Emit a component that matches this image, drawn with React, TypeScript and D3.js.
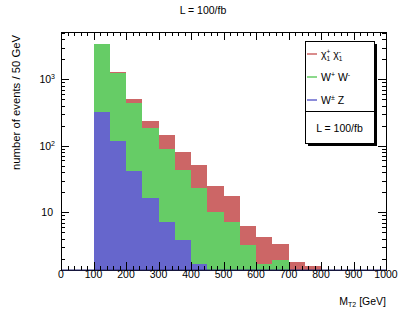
import React, { useEffect, useRef } from 'react';
import * as d3 from 'd3';

// bin lower edges in GeV (bin width 50)
const binEdges = [100, 150, 200, 250, 300, 350, 400, 450, 500, 550, 600, 650, 700, 750];
// stacked contributions, bottom to top
const wzValues = [318, 119, 41.5, 16.1, 7.1, 3.8, 1.69, 0, 0, 0, 0, 0, 0, 0];
const wwValues = [3060, 1111, 398, 171, 82, 39.2, 21.6, 10.1, 7.14, 3.24, 1.69, 1.91, 0, 0];
const chiValues = [15, 45, 59, 51, 54, 36.5, 27.8, 14.9, 10.3, 3.03, 2.59, 1.47, 1.8, 1.54];

const xTicks = [0, 100, 200, 300, 400, 500, 600, 700, 800, 900, 1000];
const yLabels = [
  { v: 10, base: '10', exp: '' },
  { v: 100, base: '10', exp: '2' },
  { v: 1000, base: '10', exp: '3' },
];

const W = 407;
const H = 318;
const left = 61, right = 386, top = 32, bottom = 270;
const font = 'Liberation Sans, Arial, Helvetica, sans-serif';

const red = '#cc6666';
const green = '#66cc66';
const blue = '#6666cc';

export default function App() {
  const ref = useRef<SVGSVGElement>(null);

  useEffect(() => {
    const svg = d3.select(ref.current);
    svg.selectAll('*').remove();

    const x = d3.scaleLinear().domain([0, 1000]).range([left, right]);
    const y = d3.scaleLog().domain([1.35, 5150]).range([bottom, top]);
    const yMin = 1.35;
    const yv = (v: number) => y(Math.max(v, yMin));

    svg.append('rect').attr('width', W).attr('height', H).attr('fill', 'white');

    // stacked histogram
    const g = svg.append('g');
    binEdges.forEach((lo, i) => {
      const a = wzValues[i];
      const b = a + wwValues[i];
      const c = b + chiValues[i];
      const segs: [number, number, string][] = [
        [0, a, blue],
        [a, b, green],
        [b, c, red],
      ];
      segs.forEach(([s0, s1, col]) => {
        if (s1 <= yMin || s1 <= s0) return;
        const y0 = s0 <= 0 ? bottom : yv(s0);
        const y1 = yv(s1);
        g.append('rect')
          .attr('x', x(lo))
          .attr('width', x(lo + 50) - x(lo))
          .attr('y', y1)
          .attr('height', y0 - y1)
          .attr('fill', col)
          .attr('shape-rendering', 'crispEdges');
      });
    });

    // frame
    svg.append('rect')
      .attr('x', left).attr('y', top)
      .attr('width', right - left).attr('height', bottom - top)
      .attr('fill', 'none').attr('stroke', '#000').attr('stroke-width', 1)
      .attr('shape-rendering', 'crispEdges');
    svg.append('line')
      .attr('x1', left).attr('x2', right).attr('y1', bottom).attr('y2', bottom)
      .attr('stroke', '#2c2c78').attr('stroke-width', 1.2);

    const ticks = svg.append('g').attr('stroke', '#000').attr('stroke-width', 1)
      .attr('shape-rendering', 'crispEdges');

    // x ticks (major 100, minor 20) on bottom and top
    d3.range(0, 1001, 20).forEach((v) => {
      const len = v % 100 === 0 ? 8 : 4;
      const xx = Math.round(x(v)) + 0.5;
      ticks.append('line').attr('x1', xx).attr('x2', xx).attr('y1', bottom).attr('y2', bottom - len);
      ticks.append('line').attr('x1', xx).attr('x2', xx).attr('y1', top).attr('y2', top + len);
    });

    // y ticks (log) on left and right
    const yTickVals: number[] = [];
    [1, 10, 100, 1000].forEach((d) => {
      for (let k = 1; k <= 9; k++) yTickVals.push(k * d);
    });
    yTickVals.filter((v) => v >= yMin && v <= 5150).forEach((v) => {
      const major = [10, 100, 1000].includes(v);
      const len = major ? 8 : 4;
      const yy = Math.round(y(v)) + 0.5;
      ticks.append('line').attr('x1', left).attr('x2', left + len).attr('y1', yy).attr('y2', yy);
      ticks.append('line').attr('x1', right).attr('x2', right - len).attr('y1', yy).attr('y2', yy);
    });

    // x tick labels
    svg.append('g').selectAll('text').data(xTicks).enter().append('text')
      .attr('x', (d) => x(d)).attr('y', 278)
      .attr('text-anchor', 'middle')
      .attr('font-family', font).attr('font-size', 10.5)
      .text((d) => d);

    // y tick labels
    yLabels.forEach((l) => {
      const t = svg.append('text')
        .attr('x', l.exp ? 55 : 53).attr('y', y(l.v) + 4)
        .attr('text-anchor', 'end')
        .attr('font-family', font).attr('font-size', 10.5);
      t.append('tspan').text(l.base);
      if (l.exp) t.append('tspan').attr('dy', -4).attr('font-size', 7).text(l.exp);
    });

    // axis titles
    const xt = svg.append('text')
      .attr('x', right).attr('y', 305)
      .attr('text-anchor', 'end')
      .attr('font-family', font).attr('font-size', 10.5);
    xt.append('tspan').text('M');
    xt.append('tspan').attr('font-size', 7).attr('dy', 2).text('T2');
    xt.append('tspan').attr('dy', -2).text(' [GeV]');

    svg.append('text')
      .attr('transform', 'translate(20,35) rotate(-90)')
      .attr('text-anchor', 'end')
      .attr('font-family', font).attr('font-size', 11.3)
      .text('number of events / 50 GeV');

    // title
    svg.append('text')
      .attr('x', 203).attr('y', 13.5)
      .attr('text-anchor', 'middle')
      .attr('font-family', font).attr('font-size', 10.5)
      .text('L = 100/fb');

    // legend
    const lx = 305, ly = 41, lw = 69, lh = 102;
    svg.append('rect').attr('x', lx + 3).attr('y', ly + 3).attr('width', lw).attr('height', lh)
      .attr('fill', '#000').attr('shape-rendering', 'crispEdges');
    svg.append('rect').attr('x', lx + 0.5).attr('y', ly + 0.5).attr('width', lw).attr('height', lh)
      .attr('fill', '#fff').attr('stroke', '#000').attr('stroke-width', 1)
      .attr('shape-rendering', 'crispEdges');
    svg.append('line').attr('x1', lx).attr('x2', lx + lw).attr('y1', 111).attr('y2', 111)
      .attr('stroke', '#000').attr('shape-rendering', 'crispEdges');

    const entries = [
      { col: red, y: 54, parts: [['χ', 0, 0], ['1', 7, 2.5], ['+', 7, -6.5], [' χ', 10.5, 4], ['1', 7, 2.5], ['-', 7, -6.5]] },
      { col: green, y: 77, parts: [['W', 10.5, 0], ['+', 7, -4], [' W', 10.5, 4], ['-', 7, -4]] },
      { col: blue, y: 100, parts: [['W', 10.5, 0], ['±', 7, -4], [' Z', 10.5, 4]] },
    ];
    entries.forEach((e) => {
      svg.append('line').attr('x1', 307).attr('x2', 317).attr('y1', e.y).attr('y2', e.y)
        .attr('stroke', e.col).attr('stroke-width', 1.5);
      const t = svg.append('text').attr('x', 321).attr('y', e.y + 4)
        .attr('font-family', font).attr('font-size', 10.5);
      if (e.col === red) {
        t.append('tspan').attr('font-size', 10.5).text('χ');
        t.append('tspan').attr('font-size', 6.5).attr('dy', 2.5).text('1');
        t.append('tspan').attr('font-size', 6.5).attr('dx', -3.6).attr('dy', -7).text('+');
        t.append('tspan').attr('font-size', 10.5).attr('dy', 4.5).text(' χ');
        t.append('tspan').attr('font-size', 6.5).attr('dy', 2.5).text('1');
        t.append('tspan').attr('font-size', 6.5).attr('dx', -3.6).attr('dy', -7).text('-');
      } else {
        e.parts.forEach(([s, fs, dy]) => {
          t.append('tspan').attr('font-size', fs as number).attr('dy', dy as number).text(s as string);
        });
      }
    });
    svg.append('text').attr('x', 339.5).attr('y', 131.5).attr('text-anchor', 'middle')
      .attr('font-family', font).attr('font-size', 10.5).text('L = 100/fb');
  }, []);

  return (
    <svg ref={ref} width={W} height={H}
      style={{ position: 'absolute', left: 0, top: 0, display: 'block' }} />
  );
}
